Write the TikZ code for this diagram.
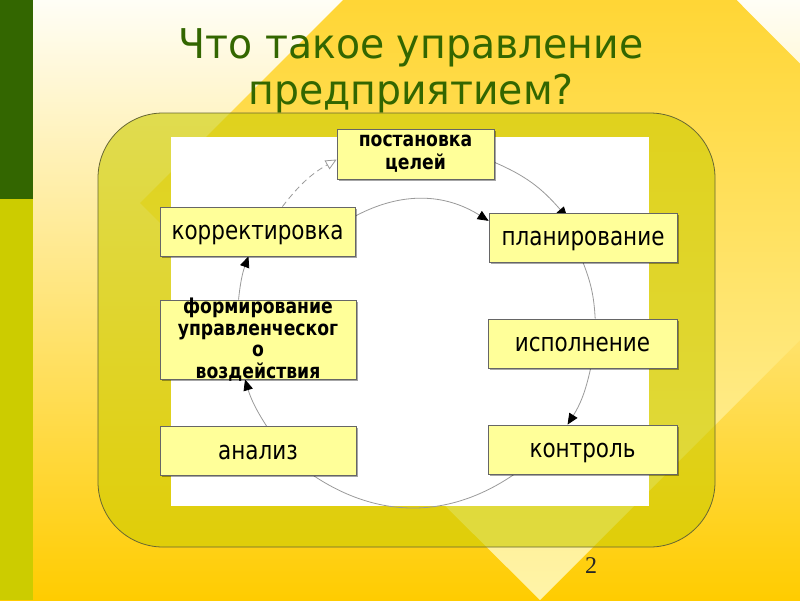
\documentclass[tikz,border=0pt]{standalone}
\usepackage{fontspec}
\setmainfont{Liberation Serif}
\newfontfamily\titlefont[FakeStretch=0.96]{DejaVu Sans}
\newfontfamily\boxfont[FakeStretch=0.84]{DejaVu Sans}
\usepackage{tikz}
\usetikzlibrary{arrows.meta,shadows}

\definecolor{titlegreen}{HTML}{336600}
\definecolor{striplime}{HTML}{CCCC00}
\definecolor{frameolive}{HTML}{CCCC00}
\definecolor{frameline}{HTML}{666633}
\definecolor{boxyellow}{HTML}{FFFF99}
\definecolor{ringgray}{HTML}{9A9A9A}
\definecolor{bgtop}{HTML}{FFFEF6}
\definecolor{bgmid}{HTML}{FFEDA8}
\definecolor{bgbottom}{HTML}{FFCC00}
\definecolor{diamondtop}{HTML}{FFCC10}
\definecolor{diamondbottom}{HTML}{FFF4A8}

\pgfdeclarelayer{back}
\pgfdeclarelayer{links}
\pgfsetlayers{back,links,main}

\tikzset{
  stagebox/.style={draw=black!60, line width=0.8pt, fill=boxyellow, inner sep=0pt,
    drop shadow={shadow xshift=1.5pt, shadow yshift=-1.5pt, opacity=0.35, fill=black}},
  stage/.style={stagebox, minimum width=195pt, minimum height=49pt,
    text height=18pt, text depth=2pt, font=\boxfont\fontsize{25.6}{28}\selectfont},
  stagebold/.style={align=center, inner sep=0pt, font=\boxfont\bfseries\fontsize{20.5}{23}\selectfont},
  ring/.style={draw=ringgray, line width=0.8pt},
}

\begin{document}
\begin{tikzpicture}[x=1pt, y=-1pt, >={Triangle[length=11pt,width=9.5pt,color=black]}]
  \useasboundingbox (0,0) rectangle (800,600);
  % slide background
  \begin{pgfonlayer}{back}
    \shade[top color=bgtop, middle color=bgmid, bottom color=bgbottom] (0,0) rectangle (800,600);
    \begin{scope}
      \clip (0,0) rectangle (800,600);
      \shade[top color=diamondtop, bottom color=diamondbottom]
        (140,203) -- (540,-197) -- (938,202) -- (540,600) -- cycle;
    \end{scope}
    \fill[titlegreen] (0,0) rectangle (33,199);
    \fill[striplime] (0,199) rectangle (33,600);
    \draw[frameline, line width=0.8pt, fill=frameolive, fill opacity=0.6, rounded corners=65pt]
      (98,113) rectangle (715,547);
    \fill[white] (171,137) rectangle (649,506);
  \end{pgfonlayer}

  \node[font=\titlefont\fontsize{41}{46}\selectfont, text=titlegreen, align=center, inner sep=0pt]
    (title) at (411,71) {Что такое управление\\предприятием?};

  % stages of the cycle
  \node[stagebox, stagebold, minimum width=157pt, minimum height=50pt] (post) at (415.5,154) {постановка\\целей};
  \node[stage] (korr) at (257.5,231.5) {корректировка};
  \node[stage, minimum width=188pt] (plan) at (583,237.5) {планирование};
  \node[stagebox, minimum width=196pt, minimum height=79pt,
    label={[stagebold, font=\boxfont\bfseries\fontsize{20.5}{21.7}\selectfont]center:{формирование\\управленческог\\о\\воздействия}}]
    (form) at (258,339.5) {};
  \node[stage, minimum width=189pt] (isp) at (582.5,343.5) {исполнение};
  \node[stage, minimum width=196pt] (anal) at (258,451) {анализ};
  \node[stage, minimum width=189pt] (ktrl) at (582.5,449.5) {контроль};

  \node[font=\fontsize{24}{28}\selectfont, text=black!85, inner sep=0pt] (pagenum) at (591,566) {2};

  % the ring
  \begin{pgfonlayer}{links}
    \draw[ring, ->, shorten >=-7pt] (post.-6.5) to[bend left=13] (plan.129);
    \draw[ring] (plan.south) to[bend left=9] (isp.63);
    \draw[ring, ->] (isp.-72) to[bend left=10] (ktrl.121.5);
    \draw[ring] (ktrl.200.5) to[bend left=34] (anal.-24);
    \draw[ring, ->] (anal.71.6) to[bend left=8] (form.-108);
    \draw[ring, ->] (form.116.9) to[bend left=7] (korr.-110.4);
    \draw[ring, dash pattern=on 6pt off 4pt, -{Triangle[open,length=11pt,width=10pt]}]
      (korr.45) to[bend left=11.5] (post.184.4);
    \draw[ring, ->] (korr.9.4) to[bend left=30] (plan.170.7);
  \end{pgfonlayer}
\end{tikzpicture}
\end{document}
